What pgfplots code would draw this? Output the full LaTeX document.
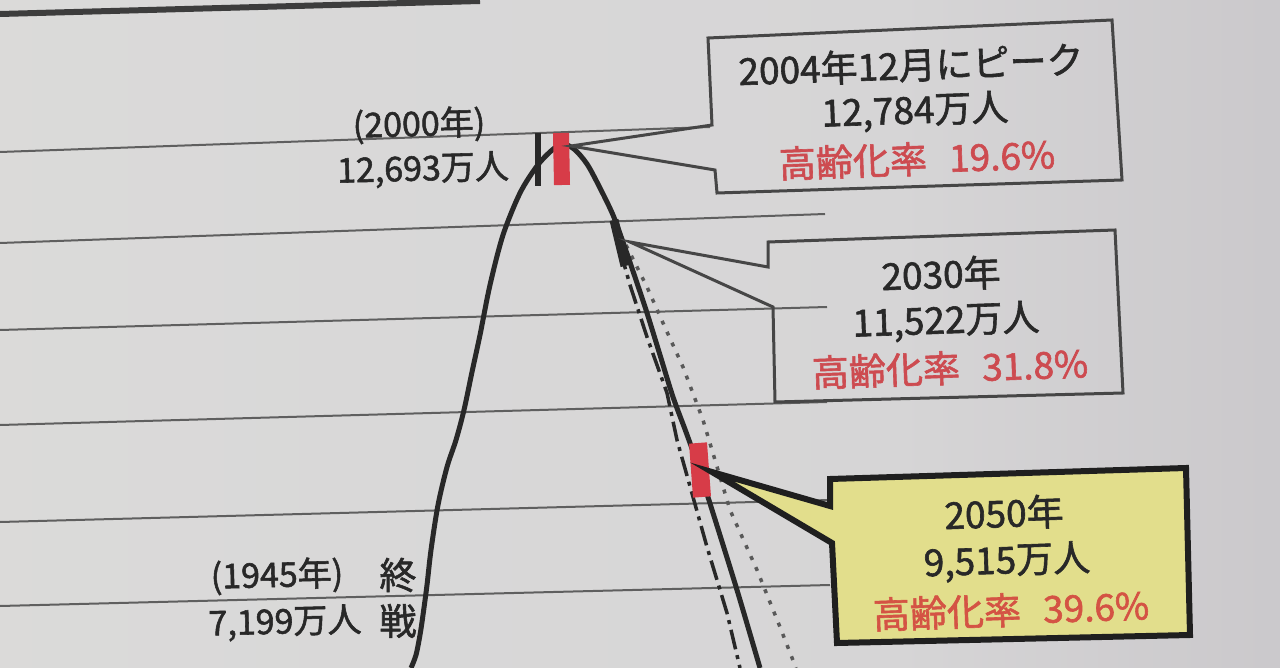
\documentclass[border=0pt]{standalone}
\usepackage{pgfplots}
\pgfplotsset{compat=1.18}
\usepackage{fontspec}
\newfontfamily\jp{Noto Sans CJK JP}[FakeBold=1.6]
\definecolor{ink}{RGB}{40,40,40}
\definecolor{redtxt}{RGB}{205,75,80}
\definecolor{redmark}{RGB}{215,60,72}
\definecolor{gridc}{RGB}{95,95,95}
\definecolor{boxc}{RGB}{70,70,70}
\definecolor{yel}{RGB}{226,222,140}
\definecolor{bgA}{RGB}{222,222,220}
\definecolor{bgB}{RGB}{214,213,214}
\definecolor{bgC}{RGB}{184,180,186}
\pgfdeclarehorizontalshading{paper}{100bp}{color(0bp)=(bgA); color(60bp)=(bgB); color(100bp)=(bgC)}
\newcommand{\bx}{\jp\fontsize{37}{40}\selectfont}
\newcommand{\lb}{\jp\fontsize{34}{38}\selectfont}
\begin{document}
\begin{tikzpicture}
\begin{axis}[width=1280pt,height=668pt,scale only axis,
  xmin=0,xmax=1280,ymin=0,ymax=668,y dir=reverse,
  axis line style={draw=none},ticks=none,clip=true]
\shade[shading=paper] (axis cs:0,0) rectangle (axis cs:1280,668);
% top frame edge
\addplot[ink!90, line width=6pt] coordinates {(0,14) (480,1)};
% grid lines
\addplot[gridc, line width=2pt] coordinates {(0,152) (710,127)};
\addplot[gridc, line width=2pt] coordinates {(0,243) (825,214)};
\addplot[gridc, line width=2pt] coordinates {(0,330) (827,307)};
\addplot[gridc, line width=2pt] coordinates {(0,425) (827,402)};
\addplot[gridc, line width=2pt] coordinates {(0,522) (830,500)};
\addplot[gridc, line width=2pt] coordinates {(0,606) (830,585)};
% projection variants
\addplot[gray!70!black, line width=3.5pt, dash pattern=on 4pt off 8pt] coordinates {
(626,245) (647,287) (663,323) (683,367) (703,420) (730,510) (757,570) (780,627) (796,668)};
\addplot[ink, line width=3.5pt, dash pattern=on 20pt off 6pt on 4pt off 6pt] coordinates {
(620,250) (630,285) (647,337) (667,393) (677,440) (693,497) (707,547) (727,613) (740,668)};
% main population curve
\addplot[ink, line width=5pt, smooth, tension=0.5] coordinates {
(411,668) (416,655) (420,635) (423,615) (427,585) (431,550) (438,505) (447,467) (456,440)
(464,410) (472,372) (480,335) (490,285) (503,235) (520,193) (537,166) (551,151) (562,144)
(574,149) (587,164) (600,188) (613,215) (624,245) (637,283) (647,313) (660,355) (673,397)
(686,432) (697,463) (713,513) (737,590) (760,668)};
% markers
\addplot[ink, line width=6pt] coordinates {(538,133) (538,186)};
\addplot[ink, line width=9pt] coordinates {(614,220) (625,266)};
\addplot[redmark, line width=16pt] coordinates {(561,133) (562,185)};
\addplot[redmark, line width=18pt] coordinates {(698,443) (702,497)};
% callout boxes
\draw[boxc, line width=3pt, line join=miter]
 (axis cs:708,38) -- (axis cs:1112,20) -- (axis cs:1122,180) -- (axis cs:717,193)
 -- (axis cs:715,170) -- (axis cs:571,146) -- (axis cs:712,125) -- cycle;
\draw[boxc, line width=3pt, line join=miter]
 (axis cs:768,242) -- (axis cs:1115,230) -- (axis cs:1123,393) -- (axis cs:775,402)
 -- (axis cs:773,307) -- (axis cs:630,242) -- (axis cs:768,267) -- cycle;
\draw[black!88, fill=yel, line width=6pt, line join=miter]
 (axis cs:830,479) -- (axis cs:1186,468) -- (axis cs:1190,635) -- (axis cs:837,643)
 -- (axis cs:832,543) -- (axis cs:712,472) -- (axis cs:830,506) -- cycle;
% box texts
\node[ink, rotate=2, font=\bx] at (axis cs:911,65) {2004年12月にピーク};
\node[ink, rotate=2, font=\bx] at (axis cs:915,112) {12,784万人};
\node[redtxt, rotate=2, font=\bx] at (axis cs:917,159) {高齢化率\hspace{0.6em}19.6\%};
\node[ink, rotate=2, font=\bx] at (axis cs:941,274) {2030年};
\node[ink, rotate=2, font=\bx] at (axis cs:946,322) {11,522万人};
\node[redtxt, rotate=2, font=\bx] at (axis cs:950,368) {高齢化率\hspace{0.6em}31.8\%};
\node[ink, rotate=2, font=\bx] at (axis cs:1004,513) {2050年};
\node[ink, rotate=2, font=\bx] at (axis cs:1007,562) {9,515万人};
\node[redtxt!85!orange, rotate=2, font=\bx] at (axis cs:1011,610) {高齢化率\hspace{0.6em}39.6\%};
% left labels
\node[ink, rotate=1.5, font=\lb] at (axis cs:419,125) {(2000年)};
\node[ink, rotate=1.5, font=\lb] at (axis cs:423,170) {12,693万人};
\node[ink, rotate=1.5, font=\lb] at (axis cs:277,576) {(1945年)};
\node[ink, rotate=1.5, font=\lb] at (axis cs:285,623) {7,199万人};
\node[ink, font=\bx] at (axis cs:398,575) {終};
\node[ink, font=\bx] at (axis cs:398,621) {戦};
\end{axis}
\end{tikzpicture}
\end{document}
